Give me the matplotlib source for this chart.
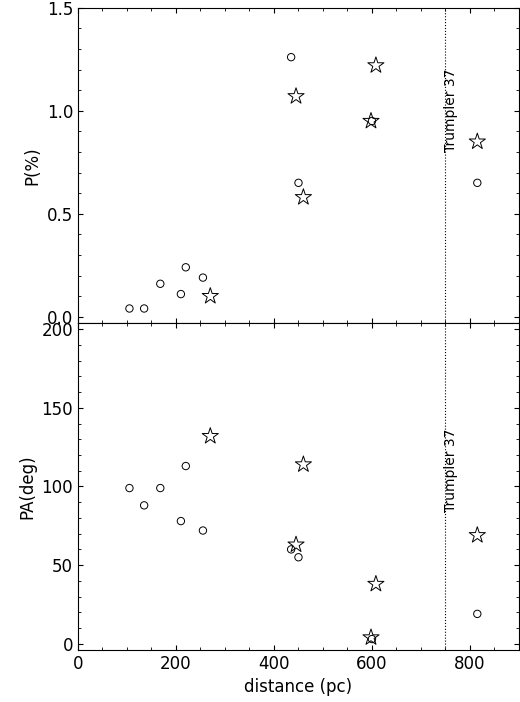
import matplotlib
matplotlib.use("Agg")
import matplotlib.pyplot as plt

# circles
d_c = [105, 135, 168, 210, 220, 255, 435, 450, 600, 815]
p_c = [0.04, 0.04, 0.16, 0.11, 0.24, 0.19, 1.26, 0.65, 0.95, 0.65]
pa_c = [99, 88, 99, 78, 113, 72, 60, 55, 3, 19]
# stars
d_s = [270, 445, 460, 598, 608, 815]
p_s = [0.10, 1.07, 0.58, 0.95, 1.22, 0.85]
pa_s = [132, 63, 114, 4, 38, 69]

fig = plt.figure(figsize=(5.2, 7.02), dpi=100)
ax1 = fig.add_axes([0.15, 0.54, 0.848, 0.449])
ax2 = fig.add_axes([0.15, 0.074, 0.848, 0.466])

for ax, yc, ys in [(ax1, p_c, p_s), (ax2, pa_c, pa_s)]:
    ax.scatter(d_c, yc, s=28, marker='o', facecolors='none', edgecolors='black', linewidths=0.7)
    ax.scatter(d_s, ys, s=150, marker='*', facecolors='none', edgecolors='black', linewidths=0.7)
    ax.axvline(750, color='black', linestyle=':', linewidth=0.8)
    ax.set_xlim(0, 900)
    ax.tick_params(direction='in', top=True, right=True, labelsize=12)
    ax.set_xticks([0, 200, 400, 600, 800])
    ax.set_xticks(range(0, 900, 50), minor=True)
    ax.tick_params(which='minor', direction='in', top=True, right=True)

ax1.set_ylim(-0.03, 1.5)
ax1.set_yticks([0.0, 0.5, 1.0, 1.5])
ax1.set_yticks([i * 0.1 for i in range(16)], minor=True)
ax1.set_xticklabels([])
ax1.set_ylabel("P(%)", fontsize=12)
ax1.text(762, 1.0, "Trumpler 37", rotation=90, ha='center', va='center', fontsize=10)

ax2.set_ylim(-4, 204)
ax2.set_yticks([0, 50, 100, 150, 200])
ax2.set_yticks(range(0, 201, 10), minor=True)
ax2.set_ylabel("PA(deg)", fontsize=12)
ax2.set_xlabel("distance (pc)", fontsize=12)
ax2.text(762, 110, "Trumpler 37", rotation=90, ha='center', va='center', fontsize=10)

fig.savefig("out.png")
